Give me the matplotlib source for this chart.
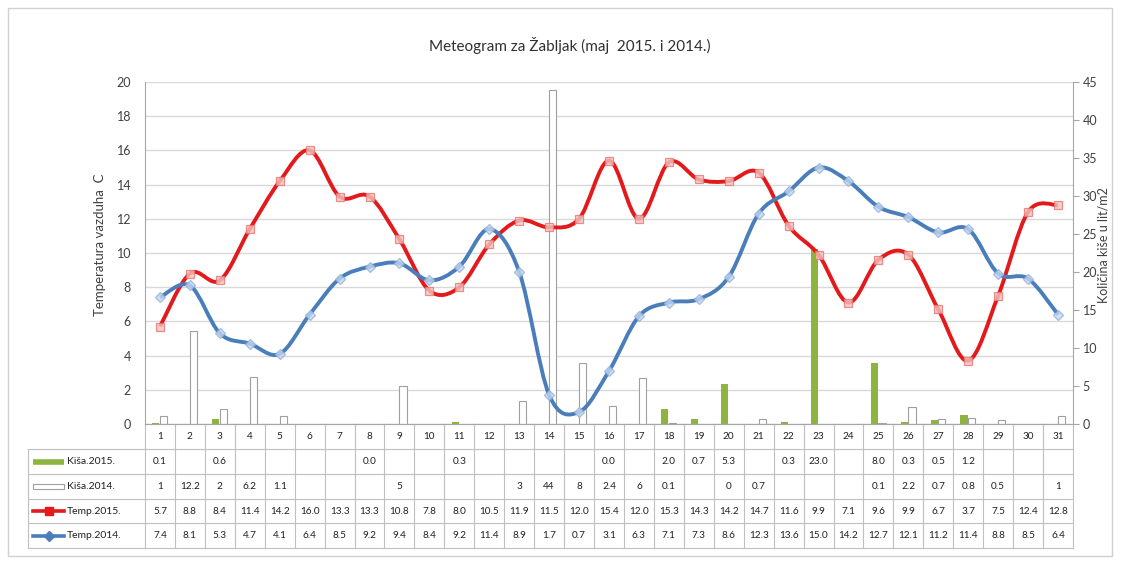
import numpy as np
import matplotlib.pyplot as plt
from matplotlib.path import Path
from matplotlib.patches import PathPatch, Rectangle
from matplotlib.lines import Line2D
from matplotlib.transforms import blended_transform_factory
from matplotlib.ticker import MultipleLocator

plt.rcParams['font.family'] = ['Lato', 'DejaVu Sans']

nan = np.nan
dani = np.arange(1, 32)
kisa_2015 = [0.1, nan, 0.6, nan, nan, nan, nan, 0.0, nan, nan, 0.3, nan, nan, nan, nan, 0.0,
             nan, 2.0, 0.7, 5.3, nan, 0.3, 23.0, nan, 8.0, 0.3, 0.5, 1.2, nan, nan, nan]
kisa_2014 = [1, 12.2, 2, 6.2, 1.1, nan, nan, nan, 5, nan, nan, nan, 3, 44, 8, 2.4,
             6, 0.1, nan, 0, 0.7, nan, nan, nan, 0.1, 2.2, 0.7, 0.8, 0.5, nan, 1]
temp_2015 = [5.7, 8.8, 8.4, 11.4, 14.2, 16.0, 13.3, 13.3, 10.8, 7.8, 8.0, 10.5, 11.9, 11.5, 12.0, 15.4,
             12.0, 15.3, 14.3, 14.2, 14.7, 11.6, 9.9, 7.1, 9.6, 9.9, 6.7, 3.7, 7.5, 12.4, 12.8]
temp_2014 = [7.4, 8.1, 5.3, 4.7, 4.1, 6.4, 8.5, 9.2, 9.4, 8.4, 9.2, 11.4, 8.9, 1.7, 0.7, 3.1,
             6.3, 7.1, 7.3, 8.6, 12.3, 13.6, 15.0, 14.2, 12.7, 12.1, 11.2, 11.4, 8.8, 8.5, 6.4]

naslov = 'Meteogram za Žabljak (maj  2015. i 2014.)'
red_labels = ['Kiša.2015.', 'Kiša.2014.', 'Temp.2015.', 'Temp.2014.']

ZELENA = '#8cb43f'
CRVENA = '#e3191c'
PLAVA = '#4a7ebb'
SIVA = '#bfbfbf'
TEKST = '#404040'

W, H = 1121, 562
fig = plt.figure(figsize=(W / 100, H / 100), dpi=100)


def fx(px):
    return px / W


def fy(py):
    return 1 - py / H


L, R, T, B = 145, 1073, 82, 424
ax = fig.add_axes([fx(L), fy(B), fx(R) - fx(L), fy(T) - fy(B)])
ax2 = ax.twinx()
ax.set_zorder(2)
ax2.set_zorder(1)
ax.patch.set_visible(False)

# kisa - stubici na desnoj osi
ax2.bar(dani - 0.14, kisa_2015, width=0.24, color=ZELENA, zorder=3)
ax2.bar(dani + 0.12, kisa_2014, width=0.24, facecolor='white', edgecolor='#a0a0a0', lw=0.8, zorder=3)
ax2.set_ylim(0, 45)
ax2.set_yticks(range(0, 46, 5))
ax2.yaxis.set_minor_locator(MultipleLocator(4.5))
ax2.yaxis.remove_overlapping_locs = False
ax2.grid(which='minor', axis='y', color='#d9d9d9', lw=1)
ax2.set_axisbelow(True)
ax2.tick_params(axis='y', which='minor', length=0)
ax2.tick_params(axis='y', which='major', length=4, color='#a6a6a6', labelcolor=TEKST, labelsize=9, pad=3)
for s in ['top', 'left', 'bottom']:
    ax2.spines[s].set_visible(False)
ax2.spines['right'].set_color('#a6a6a6')


def smooth_path(x, y):
    pts = np.column_stack([x, y]).astype(float)
    ext = np.vstack([pts[0], pts, pts[-1]])
    verts = [pts[0]]
    codes = [Path.MOVETO]
    for i in range(len(pts) - 1):
        p0, p1, p2, p3 = ext[i], ext[i + 1], ext[i + 2], ext[i + 3]
        verts += [p1 + (p2 - p0) / 6, p2 - (p3 - p1) / 6, p2]
        codes += [Path.CURVE4] * 3
    return Path(verts, codes)


ax.add_patch(PathPatch(smooth_path(dani, temp_2015), fill=False, edgecolor=CRVENA, lw=2.8, zorder=3))
ax.add_patch(PathPatch(smooth_path(dani, temp_2014), fill=False, edgecolor=PLAVA, lw=2.8, zorder=3))
ax.plot(dani, temp_2015, ls='none', marker='s', ms=6, mfc='#f3c4c0', mec='#ea7470', mew=0.9, alpha=0.8, zorder=4)
ax.plot(dani, temp_2014, ls='none', marker='D', ms=5, mfc='#c6d7ee', mec='#8eb0dc', mew=0.9, alpha=0.8, zorder=4)

ax.set_xlim(0.5, 31.5)
ax.set_ylim(0, 20)
ax.set_yticks(range(0, 21, 2))
ax.set_xticks([])
ax.tick_params(axis='y', length=0, labelcolor=TEKST, labelsize=9, pad=10)
for s in ['top', 'right']:
    ax.spines[s].set_visible(False)
ax.spines['left'].set_color('#a6a6a6')
ax.spines['bottom'].set_color('#a6a6a6')

# tabela sa podacima
tr = blended_transform_factory(ax.transData, fig.transFigure)
rows = [424, 449, 474, 499, 523, 548]
for x in np.arange(0.5, 32, 1):
    fig.add_artist(Line2D([x, x], [fy(rows[0]), fy(rows[-1])], transform=tr, color=SIVA, lw=0.8))
for r in rows:
    fig.add_artist(Line2D([0.5, 31.5], [fy(r), fy(r)], transform=tr, color=SIVA, lw=0.8))
for r in rows[1:]:
    fig.add_artist(Line2D([fx(28), fx(L)], [fy(r), fy(r)], color=SIVA, lw=0.8))
fig.add_artist(Line2D([fx(28), fx(28)], [fy(rows[1]), fy(rows[-1])], color=SIVA, lw=0.8))


def yc(i):
    return fy((rows[i] + rows[i + 1]) / 2)


cell_kw = dict(transform=tr, ha='center', va='center', fontsize=7.2, color='#202020')
for d in dani:
    fig.text(d, yc(0), str(d), **cell_kw)
    v = kisa_2015[d - 1]
    if not np.isnan(v):
        fig.text(d, yc(1), f'{v:.1f}', **cell_kw)
    v = kisa_2014[d - 1]
    if not np.isnan(v):
        fig.text(d, yc(2), f'{v:g}', **cell_kw)
    fig.text(d, yc(3), f'{temp_2015[d - 1]:.1f}', **cell_kw)
    fig.text(d, yc(4), f'{temp_2014[d - 1]:.1f}', **cell_kw)

# legenda u zaglavlju redova
k0, k1 = fx(33), fx(64)
fig.add_artist(Line2D([k0, k1], [yc(1), yc(1)], color=ZELENA, lw=4, solid_capstyle='butt'))
fig.add_artist(Rectangle((k0, yc(2) - 0.004), k1 - k0, 0.008, facecolor='white', edgecolor='#a0a0a0', lw=0.8))
fig.add_artist(Line2D([k0, k1], [yc(3), yc(3)], color=CRVENA, lw=2.6))
fig.add_artist(Line2D([(k0 + k1) / 2], [yc(3)], marker='s', ms=6, mfc=CRVENA, mec=CRVENA))
fig.add_artist(Line2D([k0, k1], [yc(4), yc(4)], color=PLAVA, lw=2.6))
fig.add_artist(Line2D([(k0 + k1) / 2], [yc(4)], marker='D', ms=5, mfc=PLAVA, mec=PLAVA))
for i, lab in enumerate(red_labels):
    fig.text(fx(67), yc(i + 1), lab, ha='left', va='center', fontsize=7.5, color='#202020')

# naslovi
fig.text(fx(570), fy(45), naslov, ha='center', va='center', fontsize=11, color='#303030')
fig.text(fx(100), fy(245), 'Temperatura vazduha  C', rotation=90, ha='center', va='center',
         fontsize=9.5, color=TEKST)
fig.text(fx(1103), fy(245), 'Količina kiše u lit/m2', rotation=90, ha='center', va='center',
         fontsize=9, color=TEKST)

fig.add_artist(Rectangle((fx(8), fy(556)), fx(1112) - fx(8), fy(8) - fy(556), fill=False,
                         edgecolor='#d0d0d0', lw=1))

fig.savefig('out.png', dpi=100)
